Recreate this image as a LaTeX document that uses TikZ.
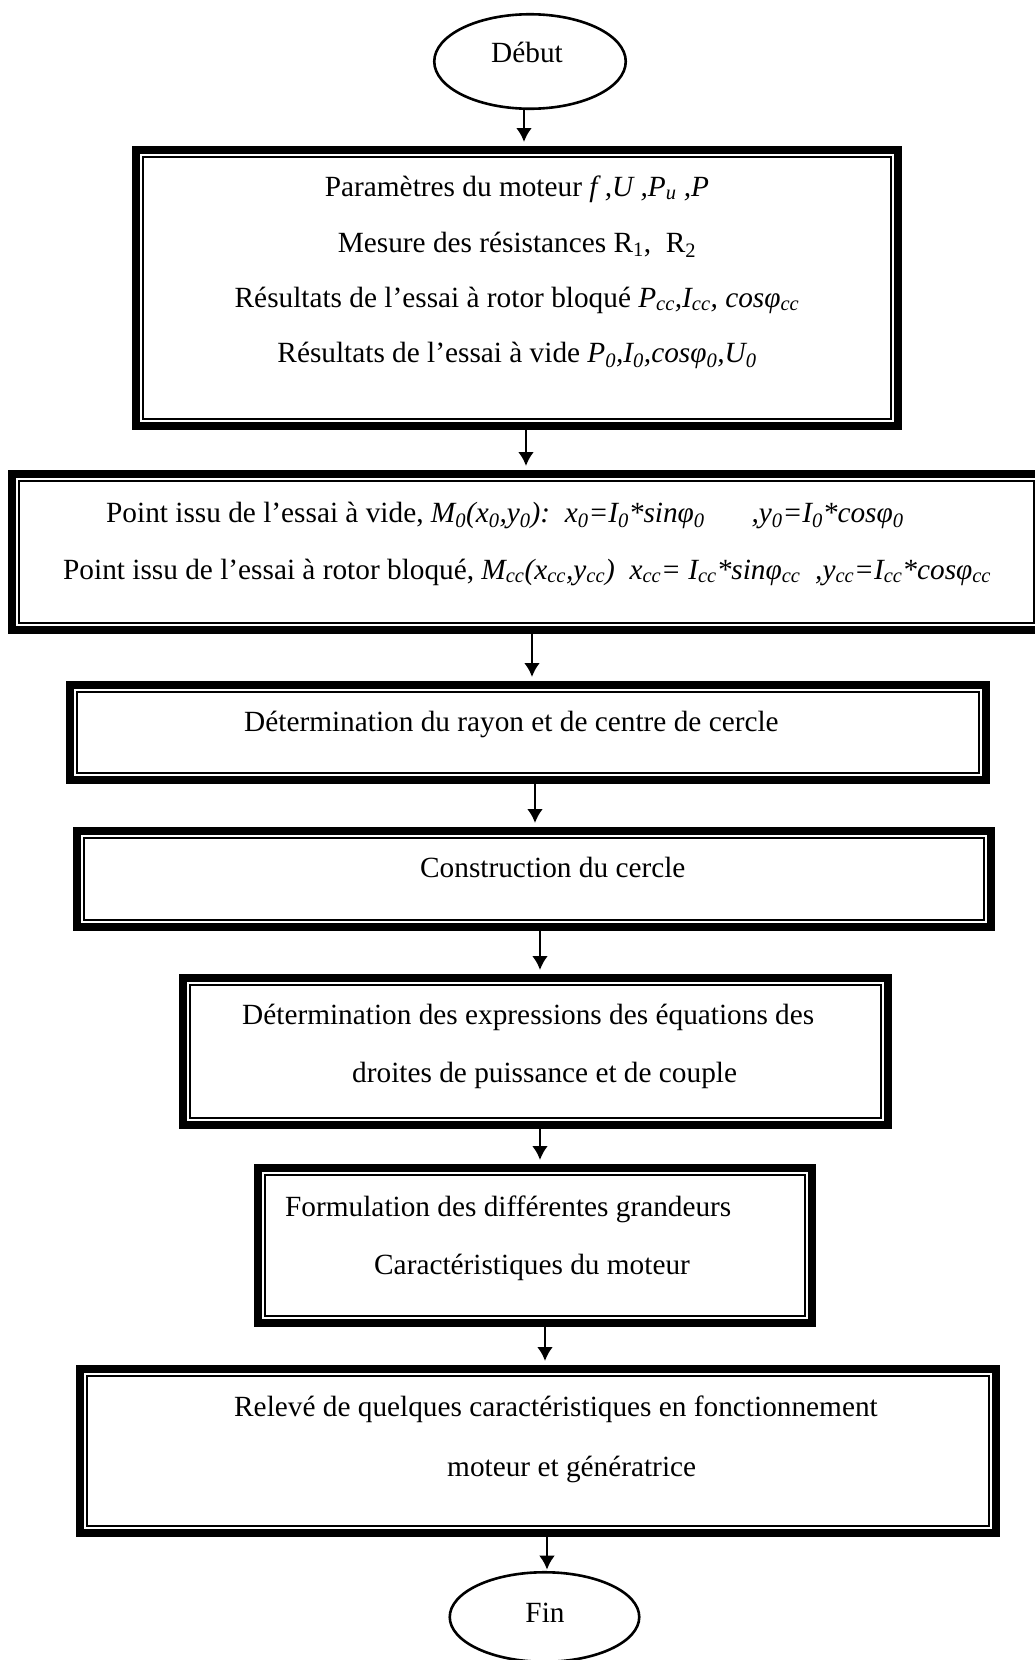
\documentclass[tikz,border=0pt]{standalone}
\usepackage{fontspec}
\setmainfont{Liberation Serif}
\usetikzlibrary{arrows.meta,shapes.geometric}
\newcommand\sbs[1]{\textsubscript{#1}}
\begin{document}
\begin{tikzpicture}[x=1pt,y=-1pt,
  txt/.style={font=\fontsize{29.3pt}{35pt}\selectfont, inner sep=0pt, anchor=base west},
  ctxt/.style={font=\fontsize{29.3pt}{35pt}\selectfont, inner sep=0pt, anchor=base},
  frame/.style={draw, rectangle, line width=8pt, inner sep=0pt},
  inframe/.style={draw, rectangle, line width=2pt, inner sep=0pt},
  term/.style={draw, ellipse, line width=2.6pt, inner sep=0pt},
  arr/.style={line width=2.8pt, -{Latex[length=14pt,width=16pt]}, shorten >=4pt}
]
\useasboundingbox (0,0) rectangle (1035,1660);

% terminals
\node[term, minimum width=191.5pt, minimum height=94.5pt] (s) at (530,61.5) {};
\node[ctxt] (st) at (527,62) {Début};
\node[term, minimum width=189.5pt, minimum height=89.5pt] (f) at (544.5,1617) {};
\node[ctxt] (ft) at (545,1622) {Fin};

% frames: outer thick line and inner thin line
\newcommand\frm[5]{%
  \node[frame, minimum width=#4pt-8pt, minimum height=#5pt-8pt] (#1) at (#2,#3) {};
  \node[inframe, minimum width=#4pt-22pt, minimum height=#5pt-22pt] (#1i) at (#2,#3) {};}
\frm{b1}{517}{288}{770}{284}
\frm{b2}{526.5}{552}{1037}{164}
\frm{b3}{528}{732.5}{924}{103}
\frm{b4}{534}{879}{922}{104}
\frm{b5}{535.5}{1051.5}{713}{155}
\frm{b6}{535}{1245.5}{562}{163}
\frm{b7}{538}{1451}{924}{172}

% texts
\node[ctxt] (t1a) at (517,196) {Paramètres du moteur \textit{f ,U ,P\sbs{u} ,P}};
\node[ctxt] (t1b) at (517,252) {Mesure des résistances R\sbs{1},\ \ R\sbs{2}};
\node[ctxt] (t1c) at (517,307) {Résultats de l’essai à rotor bloqué \textit{P\sbs{cc},I\sbs{cc}, cosφ\sbs{cc}}};
\node[ctxt] (t1d) at (517,362) {Résultats de l’essai à vide \textit{P\sbs{0},I\sbs{0},cosφ\sbs{0},U\sbs{0}}};

\node[txt] (t2a) at (106,522) {Point issu de l’essai à vide, \textit{M\sbs{0}(x\sbs{0},y\sbs{0}):\ \ x\sbs{0}=I\sbs{0}*sinφ\sbs{0}\hspace{1.6em},y\sbs{0}=I\sbs{0}*cosφ\sbs{0}}};
\node[txt] (t2b) at (63,579) {Point issu de l’essai à rotor bloqué, \textit{M\sbs{cc}(x\sbs{cc},y\sbs{cc})\ \ x\sbs{cc}= I\sbs{cc}*sinφ\sbs{cc}\ \ ,y\sbs{cc}=I\sbs{cc}*cosφ\sbs{cc}}};

\node[txt] (t3) at (244,731) {Détermination du rayon et de centre de cercle};
\node[txt] (t4) at (420,877) {Construction du cercle};
\node[txt] (t5a) at (242,1024) {Détermination des expressions des équations des};
\node[txt] (t5b) at (352,1082) {droites de puissance et de couple};
\node[txt] (t6a) at (285,1216) {Formulation des différentes grandeurs};
\node[txt] (t6b) at (374,1274) {Caractéristiques du moteur};
\node[txt] (t7a) at (234,1416) {Relevé de quelques caractéristiques en fonctionnement};
\node[txt] (t7b) at (447,1476) {moteur et génératrice};

% arrow columns
\coordinate (x1) at (524,0);
\coordinate (x2) at (526,0);
\coordinate (x3) at (532,0);
\coordinate (x4) at (535,0);
\coordinate (x5) at (540,0);
\coordinate (x6) at (540,0);
\coordinate (x7) at (545,0);
\coordinate (x8) at (547,0);

\draw[arr] (s.south -| x1) -- (b1.north -| x1);
\draw[arr] (b1.south -| x2) -- (b2.north -| x2);
\draw[arr] (b2.south -| x3) -- (b3.north -| x3);
\draw[arr] (b3.south -| x4) -- (b4.north -| x4);
\draw[arr] (b4.south -| x5) -- (b5.north -| x5);
\draw[arr] (b5.south -| x6) -- (b6.north -| x6);
\draw[arr] (b6.south -| x7) -- (b7.north -| x7);
\draw[arr, shorten >=1.3pt] (b7.south -| x8) -- (f.north -| x8);
\end{tikzpicture}
\end{document}
